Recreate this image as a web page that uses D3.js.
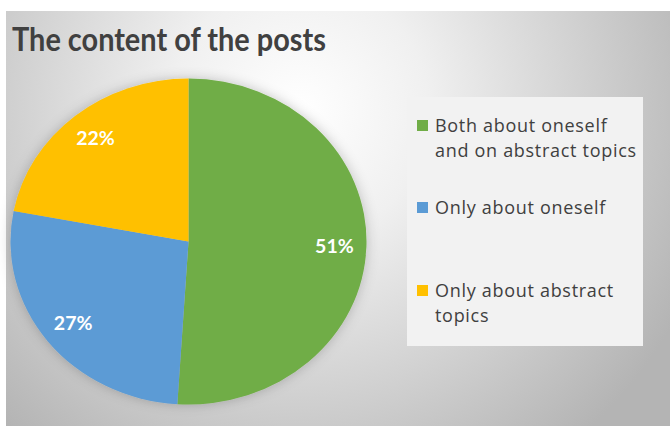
<!DOCTYPE html>
<html><head><meta charset="utf-8">
<script src="https://cdn.jsdelivr.net/npm/d3@7"></script>
<style>html,body{margin:0;padding:0;background:#fff;}svg{display:block;}</style>
</head><body>
<script>
const categories = ["Both about oneself|and on abstract topics", "Only about oneself", "Only about abstract|topics"];
const values = [51, 27, 22];
const labels = ["51%", "27%", "22%"];
const colors = ["#70AD47", "#5B9BD5", "#FFC000"];
const title = "The content of the posts";

const W = 670, H = 429;
const svg = d3.select("body").append("svg").attr("width", W).attr("height", H);
const defs = svg.append("defs");
const g = defs.append("radialGradient").attr("id","bg").attr("gradientUnits","userSpaceOnUse")
  .attr("cx",300).attr("cy",110).attr("r",430);
g.append("stop").attr("offset","0%").attr("stop-color","#ffffff");
g.append("stop").attr("offset","30%").attr("stop-color","#f0f0f0");
g.append("stop").attr("offset","100%").attr("stop-color","#b4b4b4");
const f = defs.append("filter").attr("id","sh").attr("x","-20%").attr("y","-20%").attr("width","140%").attr("height","140%");
f.append("feGaussianBlur").attr("in","SourceAlpha").attr("stdDeviation",6).attr("result","b");
f.append("feFlood").attr("flood-color","#000").attr("flood-opacity",0.22);
f.append("feComposite").attr("in2","b").attr("operator","in").attr("result","s");
const m = f.append("feMerge"); m.append("feMergeNode").attr("in","s"); m.append("feMergeNode").attr("in","SourceGraphic");

svg.append("rect").attr("x",6).attr("y",11).attr("width",W-6).attr("height",415).attr("fill","url(#bg)");

svg.append("text").attr("x",12).attr("y",51).text(title)
  .attr("font-family","Lato, 'Open Sans', sans-serif").attr("font-weight","bold")
  .attr("font-size",33).attr("fill","#404040").attr("textLength",314).attr("lengthAdjust","spacingAndGlyphs");

const cx = 188.5, cy = 241.5, rx = 178, ry = 163;
const pie = d3.pie().sort(null).value(d => d);
const arcs = pie(values);
const arc = d3.arc().innerRadius(0).outerRadius(ry);
const pg = svg.append("g").attr("transform", `translate(${cx},${cy}) scale(${rx/ry},1)`).attr("filter","url(#sh)");
pg.selectAll("path").data(arcs).join("path").attr("d", arc).attr("fill", (d,i) => colors[i]);

const larc = d3.arc().innerRadius(ry*0.82).outerRadius(ry*0.82);
svg.append("g").selectAll("text").data(arcs).join("text")
  .attr("x", d => cx + larc.centroid(d)[0]*rx/ry)
  .attr("y", d => cy + larc.centroid(d)[1])
  .attr("dy","0.35em").attr("text-anchor","middle")
  .attr("font-family","Lato, 'Open Sans', sans-serif").attr("font-weight","bold").attr("font-size",19.5)
  .attr("fill","#fff").text((d,i) => labels[i]);

// legend
const lx = 407, ly = 97;
svg.append("rect").attr("x",lx).attr("y",ly).attr("width",236).attr("height",249).attr("fill","#f2f2f2");
const rowY = [132, 214, 297];
categories.forEach((c,i) => {
  svg.append("rect").attr("x",417).attr("y",rowY[i]-12).attr("width",11).attr("height",11).attr("fill",colors[i]);
  const t = svg.append("text").attr("x",435).attr("y",rowY[i])
    .attr("font-family","'Open Sans', Lato, sans-serif").attr("font-size",18).attr("letter-spacing",0.7).attr("fill","#404040");
  c.split("|").forEach((line,j) => t.append("tspan").attr("x",435).attr("dy", j===0?0:25).text(line));
});
</script>
</body></html>
